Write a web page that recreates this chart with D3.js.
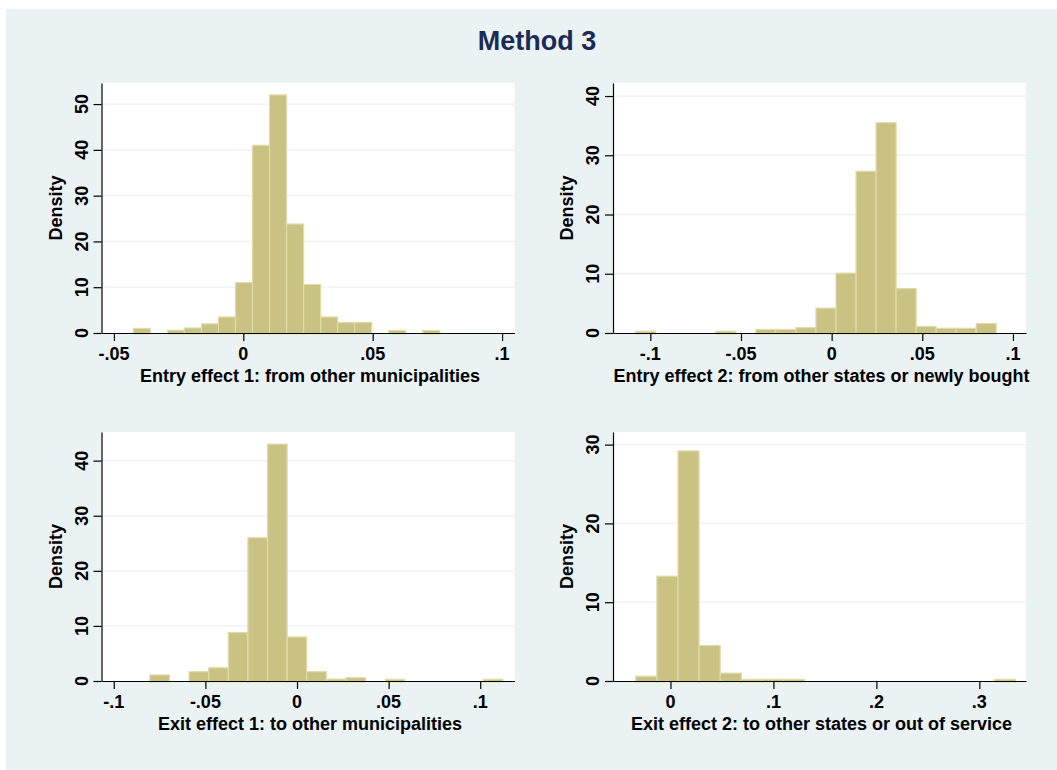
<!DOCTYPE html>
<html>
<head>
<meta charset="utf-8">
<script src="https://cdn.jsdelivr.net/npm/d3@7"></script>
<style>
  body { margin: 0; background: #fff; }
  text { font-family: "Liberation Sans", Arial, sans-serif; font-weight: bold; }
</style>
</head>
<body>
<div id="figure"></div>
<script>
const width = 1057,
      height = 770;

// Histogram data (density per bin).
const entry1Start = -0.0425, entry1Width = 0.00658;
const entry1Density = [1.0, 0, 0.6, 1.1, 2.0, 3.5, 11.0, 41.0, 52.0, 23.8, 10.6, 3.5, 2.3, 2.3, 0, 0.55, 0, 0.55];

const entry2Start = -0.1081, entry2Width = 0.01105;
const entry2Density = [0.3, 0, 0, 0, 0.3, 0, 0.6, 0.6, 0.9, 4.2, 10.1, 27.3, 35.5, 7.5, 1.1, 0.8, 0.8, 1.6];

const exit1Start = -0.0803, exit1Width = 0.0107;
const exit1Density = [1.1, 0, 1.7, 2.4, 8.8, 26.0, 43.0, 8.0, 1.7, 0.35, 0.6, 0, 0.3, 0, 0, 0, 0, 0.3];

const exit2Start = -0.0337, exit2Width = 0.0205;
const exit2Density = [0.6, 13.3, 29.2, 4.5, 1.0, 0.2, 0.2, 0.2, 0, 0, 0, 0, 0, 0, 0, 0, 0, 0.2];

// Axis ranges and ticks.
const entry1XTicks = [-0.05, 0, 0.05, 0.1], entry1XDomain = [-0.0548, 0.1048];
const entry2XTicks = [-0.1, -0.05, 0, 0.05, 0.1], entry2XDomain = [-0.1206, 0.1072];
const exit1XTicks = [-0.1, -0.05, 0, 0.05, 0.1], exit1XDomain = [-0.1067, 0.1187];
const exit2XTicks = [0, 0.1, 0.2, 0.3], exit2XDomain = [-0.0558, 0.3453];

const entry1YTicks = [0, 10, 20, 30, 40, 50], entry1YMax = 54.6;
const entry2YTicks = [0, 10, 20, 30, 40], entry2YMax = 42.2;
const exit1YTicks = [0, 10, 20, 30, 40], exit1YMax = 45.2;
const exit2YTicks = [0, 10, 20, 30], exit2YMax = 31.6;

const xTitles = [
    "Entry effect 1: from other municipalities",
    "Entry effect 2: from other states or newly bought",
    "Exit effect 1: to other municipalities",
    "Exit effect 2: to other states or out of service"
];

const panels = [
    {start: entry1Start, bw: entry1Width, dens: entry1Density, xt: entry1XTicks, xd: entry1XDomain, yt: entry1YTicks, ymax: entry1YMax,
     box: {l: 101.5, r: 514.5, t: 83, b: 333}},
    {start: entry2Start, bw: entry2Width, dens: entry2Density, xt: entry2XTicks, xd: entry2XDomain, yt: entry2YTicks, ymax: entry2YMax,
     box: {l: 613, r: 1026, t: 83, b: 333}},
    {start: exit1Start, bw: exit1Width, dens: exit1Density, xt: exit1XTicks, xd: exit1XDomain, yt: exit1YTicks, ymax: exit1YMax,
     box: {l: 101.5, r: 514.5, t: 432, b: 681}},
    {start: exit2Start, bw: exit2Width, dens: exit2Density, xt: exit2XTicks, xd: exit2XDomain, yt: exit2YTicks, ymax: exit2YMax,
     box: {l: 613, r: 1026, t: 432, b: 681}}
];

// Stata style numbers: ".05", "-.1"
const stataFmt = v => String(+v.toFixed(4)).replace(/^(-?)0\./, "$1.");

const svg = d3.select("#figure").append("svg")
    .attr("width", width)
    .attr("height", height);

svg.append("rect")
    .attr("x", 6).attr("y", 9)
    .attr("width", width - 6).attr("height", height - 9)
    .attr("fill", "#eaf2f3");

svg.append("text")
    .attr("x", 537).attr("y", 50)
    .attr("text-anchor", "middle")
    .attr("font-size", 27)
    .attr("fill", "#1c2b55")
    .text("Method 3");

panels.forEach((p, i) => {
    const {l, r, t, b} = p.box;
    const x = d3.scaleLinear().domain(p.xd).range([l, r]);
    const y = d3.scaleLinear().domain([0, p.ymax]).range([b, t]);
    const g = svg.append("g");

    // White plot region.
    g.append("rect")
        .attr("x", l).attr("y", t)
        .attr("width", r - l).attr("height", b - t)
        .attr("fill", "#fff");

    // Grid lines.
    g.append("g")
        .selectAll("line")
        .data(p.yt.filter(d => d > 0))
        .join("line")
            .attr("x1", l).attr("x2", r)
            .attr("y1", d => y(d)).attr("y2", d => y(d))
            .attr("stroke", "#eaf2f3")
            .attr("stroke-width", 1.3);

    // Bars.
    const bins = p.dens.map((d, k) => ({x0: p.start + k * p.bw, x1: p.start + (k + 1) * p.bw, d}))
        .filter(d => d.d > 0);
    g.append("g")
        .selectAll("rect")
        .data(bins)
        .join("rect")
            .attr("x", d => x(d.x0))
            .attr("width", d => x(d.x1) - x(d.x0))
            .attr("y", d => y(d.d))
            .attr("height", d => y(0) - y(d.d) + 1)
            .attr("fill", "#c9c283")
            .attr("stroke", "#e0dcaa")
            .attr("stroke-width", 1.2);

    // Y axis.
    g.append("g")
        .attr("transform", `translate(${l},0)`)
        .call(d3.axisLeft(y).tickValues(p.yt).tickSize(8).tickSizeOuter(0).tickFormat(""))
        .call(g => g.select(".domain").attr("stroke", "#000").attr("stroke-width", 1.2))
        .call(g => g.selectAll(".tick line").attr("stroke", "#000").attr("stroke-width", 1.2));

    g.append("g")
        .selectAll("text")
        .data(p.yt)
        .join("text")
            .attr("transform", d => `translate(${l - 14},${y(d)}) rotate(-90)`)
            .attr("text-anchor", "middle")
            .attr("font-size", 18)
            .text(d => d);

    g.append("text")
        .attr("transform", `translate(${l - 40},${(t + b) / 2}) rotate(-90)`)
        .attr("text-anchor", "middle")
        .attr("font-size", 18)
        .text("Density");

    // X axis.
    g.append("g")
        .attr("transform", `translate(0,${b})`)
        .call(d3.axisBottom(x).tickValues(p.xt).tickSize(8).tickSizeOuter(0).tickFormat(""))
        .call(g => g.select(".domain").attr("stroke", "#000").attr("stroke-width", 1.2))
        .call(g => g.selectAll(".tick line").attr("stroke", "#000").attr("stroke-width", 1.2));

    g.append("g")
        .selectAll("text")
        .data(p.xt)
        .join("text")
            .attr("x", d => x(d))
            .attr("y", b + 27)
            .attr("text-anchor", "middle")
            .attr("font-size", 18)
            .text(stataFmt);

    g.append("text")
        .attr("x", (l + r) / 2 + 2)
        .attr("y", b + 48.5)
        .attr("text-anchor", "middle")
        .attr("font-size", 18)
        .text(xTitles[i]);
});
</script>
</body>
</html>
